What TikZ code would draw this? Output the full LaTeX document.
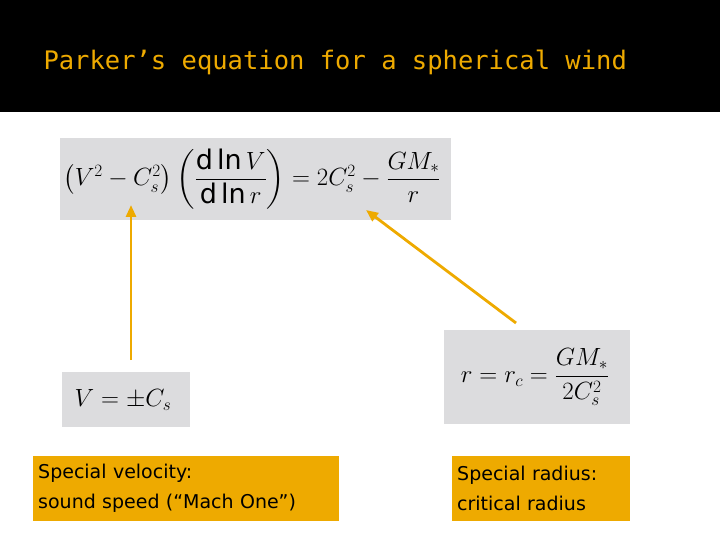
\documentclass[tikz,border=0pt]{standalone}
\usepackage{fontspec}
\usepackage{amsmath}
\setmainfont{DejaVu Sans}
\setmonofont{DejaVu Sans Mono}
\usetikzlibrary{arrows.meta}
\definecolor{gold}{RGB}{238,170,0}
\definecolor{eqgray}{RGB}{220,220,222}
\begin{document}
\begin{tikzpicture}[x=1pt,y=-1pt,
	eqbox/.style={inner sep=0pt,font=\fontsize{27}{32}\selectfont},
	notebox/.style={fill=gold,anchor=north west,align=left,inner xsep=5pt,inner ysep=4pt,font=\fontsize{19}{30}\selectfont},
	link/.style={-{Triangle[length=12pt,width=10pt]},draw=gold,line width=2.8pt}
]
	\useasboundingbox (0,0) rectangle (720,540);
	\fill[black] (0,0) rectangle (720,112);
	\node[anchor=west,text=gold,font=\ttfamily\fontsize{25.5}{30}\selectfont] (title) at (40,62) {Parker’s equation for a spherical wind};

	\fill[eqgray] (60,138) rectangle (451,220);
	\node[eqbox] (parker) at (252,179) {$\left(V^2-C_s^2\right)\left(\dfrac{\mathrm{d}\ln V}{\mathrm{d}\ln r}\right)=2C_s^2-\dfrac{GM_*}{r}$};
	\fill[eqgray] (62,372) rectangle (190,427);
	\node[eqbox] (mach) at (123,400) {$V=\pm C_s$};
	\fill[eqgray] (444,330) rectangle (630,424);
	\node[eqbox] (rcrit) at (535,377) {$r=r_c=\dfrac{GM_*}{2C_s^2}$};

	\coordinate (vtip) at (131,205);
	\coordinate (vtail) at (131,360);
	\coordinate (rtip) at (366,210);
	\coordinate (rtail) at (516,323);
	\draw[link] (vtail) -- (vtip);
	\draw[link] (rtail) -- (rtip);

	\node[notebox,text width=296pt,minimum height=65pt] (vnote) at (33,456) {Special velocity:\\sound speed (“Mach One”)};
	\node[notebox,text width=168pt,minimum height=65pt] (rnote) at (452,456) {Special radius:\\critical radius};
\end{tikzpicture}
\end{document}
